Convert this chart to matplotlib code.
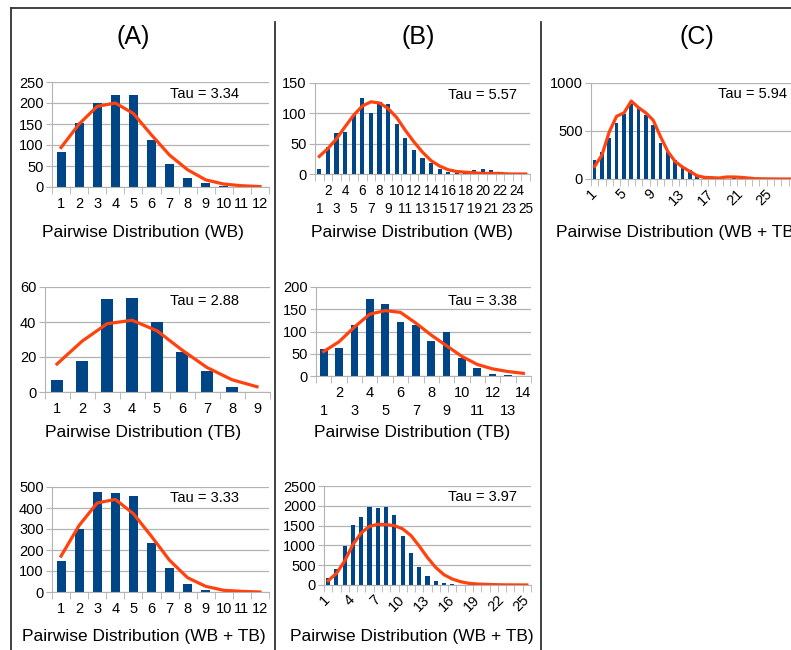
import numpy as np
import matplotlib.pyplot as plt
from matplotlib.lines import Line2D

plt.rcParams['font.family'] = ['Liberation Sans', 'DejaVu Sans']

# (A) panels
a_wb_bars = [83, 153, 200, 220, 218, 113, 55, 22, 10, 3, 1, 0]
a_wb_fit = [94, 150, 192, 200, 175, 124, 76, 41, 17, 7, 3, 1]
a_tb_bars = [7, 18, 53, 54, 40, 23, 12, 3, 0]
a_tb_fit = [16, 29, 39, 41, 35, 24, 14, 7, 3]
a_all_bars = [150, 300, 475, 470, 455, 235, 115, 40, 10, 2, 1, 0]
a_all_fit = [171, 317, 424, 441, 373, 265, 151, 68, 27, 8, 3, 0]

# (B) panels
b_wb_bars = [8, 45, 67, 70, 97, 126, 101, 119, 116, 83, 60, 40, 27, 18, 8,
             3, 2, 2, 6, 8, 7, 3, 1, 0, 0]
b_wb_fit = [29, 42, 58, 78, 97, 112, 119, 117, 108, 93, 72, 53, 36, 22, 13,
            7, 4, 3, 2, 1, 1, 1, 0, 0, 0]
b_tb_bars = [60, 62, 115, 173, 162, 121, 115, 79, 99, 40, 19, 4, 2, 0]
b_tb_fit = [55, 77, 110, 139, 147, 143, 119, 92, 68, 44, 26, 16, 10, 6]
b_all_bars = [167, 400, 983, 1508, 1708, 1958, 1942, 1967, 1767, 1250, 800,
              442, 233, 108, 50, 20, 10, 5, 0, 0, 0, 0, 0, 0, 0]
b_all_fit = [108, 292, 608, 1025, 1317, 1483, 1533, 1525, 1500, 1417, 1250,
             983, 692, 442, 258, 150, 83, 42, 25, 17, 10, 5, 3, 2, 1]

# (C) panel
c_all_bars = [193, 285, 430, 588, 681, 784, 740, 670, 561, 371, 285, 200, 138,
              96, 45, 28, 17, 10, 5, 15, 10, 5, 2, 1, 0, 0, 0, 0]
c_all_fit = [131, 251, 492, 654, 688, 812, 743, 688, 612, 440, 285, 182, 124,
             79, 34, 17, 14, 10, 21, 21, 17, 10, 3, 2, 1, 0, 0, 0]

BAR = '#004586'
LINE = '#ff420e'
GRID = '#b3b3b3'
W, H = 791, 650

fig = plt.figure(figsize=(W / 100, H / 100), dpi=100)


def rect(left, top, right, bottom):
    return [left / W, 1 - bottom / H, (right - left) / W, (bottom - top) / H]


def ftext(x, y, s, **kw):
    fig.text(x / W, 1 - y / H, s, ha='center', va='center', **kw)


def panel(r, bars, fit, ymax, ystep, mode='plain', step=1, xsize=10.5):
    ax = fig.add_axes(r)
    n = len(bars)
    cats = np.arange(1, n + 1)
    ax.bar(cats, bars, width=0.5, color=BAR, zorder=2)
    ax.plot(cats, fit, color=LINE, lw=2.3, zorder=3)
    ax.set_xlim(0.5, n + 0.5)
    ax.set_ylim(0, ymax)
    ax.set_yticks(np.arange(0, ymax + 1, ystep))
    ax.yaxis.grid(True, color=GRID, lw=0.9)
    ax.set_axisbelow(True)
    for s in ['top', 'right']:
        ax.spines[s].set_visible(False)
    for s in ['left', 'bottom']:
        ax.spines[s].set_color(GRID)
    ax.set_xticks(np.arange(0.5, n + 1, 1), minor=True)
    ax.tick_params(axis='x', which='minor', length=5, color=GRID)
    ax.tick_params(axis='y', length=4, color=GRID, labelsize=10.5, pad=2)
    if mode == 'plain':
        ax.set_xticks(cats, [str(c) for c in cats])
        ax.tick_params(axis='x', which='major', length=0, pad=7, labelsize=xsize)
    elif mode == 'stagger':
        # even categories on the upper row, odd ones on a lower row
        even = cats[cats % 2 == 0]
        odd = cats[cats % 2 == 1]
        ax.set_xticks(even, [str(c) for c in even])
        ax.tick_params(axis='x', which='major', length=0, pad=7, labelsize=xsize)
        sec = ax.secondary_xaxis('bottom')
        sec.set_xticks(odd, [str(c) for c in odd])
        sec.tick_params(axis='x', length=0, pad=20, labelsize=xsize)
        sec.spines['bottom'].set_visible(False)
    else:
        pos = cats[::step]
        ax.set_xticks(pos, [str(c) for c in pos])
        ax.tick_params(axis='x', which='major', length=0, pad=9, labelsize=xsize)
        plt.setp(ax.get_xticklabels(), rotation=45, ha='right', va='center',
                 rotation_mode='anchor')
    return ax


panel(rect(52, 82, 269, 187), a_wb_bars, a_wb_fit, 250, 50)
panel(rect(44.5, 287, 269.5, 392), a_tb_bars, a_tb_fit, 60, 20)
panel(rect(52, 487, 269, 592), a_all_bars, a_all_fit, 500, 100)
panel(rect(315, 83, 530, 174), b_wb_bars, b_wb_fit, 150, 50, mode='stagger',
      xsize=9.8)
panel(rect(316, 287, 531, 376), b_tb_bars, b_tb_fit, 200, 50, mode='stagger')
panel(rect(324, 486, 531, 585), b_all_bars, b_all_fit, 2500, 500, mode='rot', step=3)
panel(rect(591, 83, 796, 179), c_all_bars, c_all_fit, 1000, 500, mode='rot', step=4)

# Tau annotations
ftext(205, 94, 'Tau = 3.34', fontsize=10.5)
ftext(205, 301, 'Tau = 2.88', fontsize=10.5)
ftext(205, 498, 'Tau = 3.33', fontsize=10.5)
ftext(482, 95, 'Tau = 5.57', fontsize=10.5)
ftext(482, 301, 'Tau = 3.38', fontsize=10.5)
ftext(482, 497, 'Tau = 3.97', fontsize=10.5)
ftext(752, 94, 'Tau = 5.94', fontsize=10.5)

# axis titles
ftext(143, 233, 'Pairwise Distribution (WB)', fontsize=12.5)
ftext(143, 432, 'Pairwise Distribution (TB)', fontsize=12.5)
ftext(144, 637, 'Pairwise Distribution (WB + TB)', fontsize=12.5)
ftext(412, 233, 'Pairwise Distribution (WB)', fontsize=12.5)
ftext(412, 432, 'Pairwise Distribution (TB)', fontsize=12.5)
ftext(412, 637, 'Pairwise Distribution (WB + TB)', fontsize=12.5)
ftext(678, 233, 'Pairwise Distribution (WB + TB)', fontsize=12.5)

# column headers
ftext(133, 37, '(A)', fontsize=18)
ftext(418, 37, '(B)', fontsize=18)
ftext(697, 37, '(C)', fontsize=18)

# frame and dividers
frame = [((11, 791), (8, 8)), ((11, 11), (8, 650)),
         ((275, 275), (22, 650)), ((541, 541), (22, 650))]
for xs, ys in frame:
    fig.add_artist(Line2D([x / W for x in xs], [1 - y / H for y in ys],
                          color='#333333', lw=1.3))

fig.savefig('out.png', dpi=100)
